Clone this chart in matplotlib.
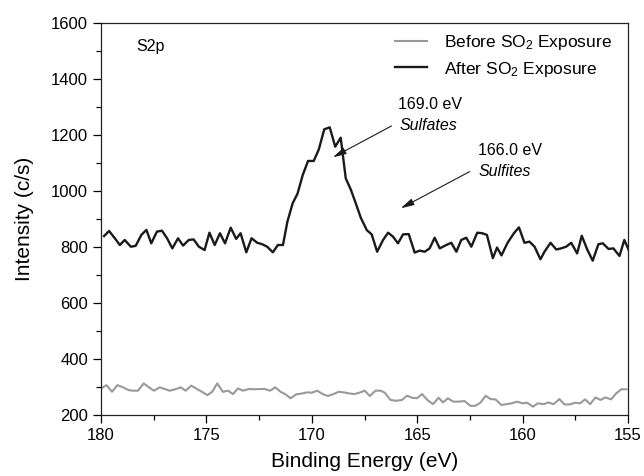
import matplotlib
matplotlib.use("Agg")
import matplotlib.pyplot as plt
from matplotlib.ticker import MultipleLocator

# S2p spectrum after SO2 exposure
after_energy = [
    179.86, 179.62, 179.35, 179.11, 178.88, 178.59, 178.36, 178.09, 177.85, 177.62,
    177.35, 177.11, 176.87, 176.62, 176.35, 176.11, 175.84, 175.61, 175.36, 175.09,
    174.86, 174.61, 174.36, 174.12, 173.85, 173.59, 173.38, 173.11, 172.86, 172.59,
    172.36, 172.12, 171.85, 171.61, 171.37, 171.16, 170.91, 170.68, 170.43, 170.18,
    169.91, 169.67, 169.41, 169.15, 168.89, 168.63, 168.39, 168.15, 167.91, 167.68,
    167.39, 167.16, 166.90, 166.62, 166.38, 166.15, 165.91, 165.67, 165.40, 165.12,
    164.88, 164.64, 164.41, 164.17, 163.93, 163.62, 163.38, 163.14, 162.91, 162.67,
    162.43, 162.15, 161.91, 161.69, 161.41, 161.21, 161.00, 160.71, 160.41, 160.17,
    159.91, 159.67, 159.43, 159.15, 158.96, 158.67, 158.40, 158.17, 157.93, 157.69,
    157.41, 157.19, 156.93, 156.67, 156.40, 156.19, 155.92, 155.69, 155.40, 155.17,
    154.96,
]
after_counts = [
    839, 857, 831, 807, 825, 801, 804, 843, 861, 813,
    855, 858, 831, 795, 831, 805, 825, 827, 801, 789,
    851, 807, 849, 813, 869, 829, 849, 781, 831, 815,
    810, 801, 781, 807, 807, 890, 956, 990, 1057, 1107,
    1107, 1148, 1220, 1227, 1158, 1190, 1045, 1005, 955, 905,
    860, 845, 783, 825, 851, 837, 813, 845, 846, 780,
    787, 783, 795, 833, 795, 807, 815, 783, 825, 833,
    801, 851, 849, 843, 760, 798, 770, 815, 849, 870,
    815, 819, 801, 756, 783, 815, 791, 795, 801, 815,
    777, 840, 791, 751, 810, 813, 793, 795, 768, 825,
    789,
]

# S2p spectrum before SO2 exposure
before_energy = [
    180.14, 179.99, 179.75, 179.48, 179.23, 178.96, 178.69, 178.48, 178.25, 177.98,
    177.73, 177.49, 177.22, 176.98, 176.74, 176.48, 176.22, 175.99, 175.72, 175.45,
    175.21, 174.96, 174.73, 174.49, 174.22, 173.98, 173.74, 173.51, 173.27, 173.00,
    172.75, 172.48, 172.24, 171.98, 171.74, 171.48, 171.25, 171.01, 170.74, 170.47,
    170.22, 169.99, 169.75, 169.48, 169.24, 168.97, 168.73, 168.48, 168.21, 167.98,
    167.74, 167.49, 167.25, 166.98, 166.74, 166.54, 166.27, 165.99, 165.72, 165.48,
    165.25, 165.01, 164.77, 164.52, 164.25, 163.98, 163.78, 163.54, 163.30, 163.03,
    162.75, 162.48, 162.24, 162.00, 161.75, 161.52, 161.28, 161.01, 160.77, 160.51,
    160.27, 160.01, 159.78, 159.51, 159.27, 159.00, 158.77, 158.53, 158.25, 158.01,
    157.77, 157.50, 157.27, 157.03, 156.79, 156.54, 156.30, 156.07, 155.80, 155.56,
    155.32, 155.07,
]
before_counts = [
    289, 295, 307, 283, 307, 299, 289, 287, 287, 313,
    299, 287, 299, 293, 287, 292, 299, 287, 305, 293,
    283, 271, 283, 313, 283, 287, 275, 295, 287, 293,
    292, 293, 293, 287, 299, 283, 274, 260, 274, 277,
    281, 280, 287, 275, 268, 275, 283, 281, 277, 275,
    280, 287, 268, 287, 287, 280, 254, 251, 254, 269,
    262, 260, 275, 254, 239, 262, 245, 260, 248, 248,
    250, 233, 233, 244, 269, 257, 256, 236, 239, 242,
    248, 242, 244, 230, 242, 239, 245, 239, 257, 238,
    238, 244, 242, 256, 239, 263, 254, 263, 256, 277,
    292, 292,
]

plt.rcParams.update(
    {
        "font.family": ["Liberation Sans", "DejaVu Sans"],
        "mathtext.default": "regular",
        "font.size": 11.5,
        "axes.linewidth": 0.9,
        "axes.edgecolor": "#222222",
    }
)

fig = plt.figure(figsize=(6.44, 4.76), dpi=100)
ax = fig.add_axes([0.157, 0.128, 0.818, 0.824])

ax.plot(before_energy, before_counts, color="#999999", lw=1.5, label="Before SO$_2$ Exposure")
ax.plot(after_energy, after_counts, color="#1a1a1a", lw=1.7, label="After SO$_2$ Exposure")

ax.set_xlim(180, 155)
ax.set_ylim(200, 1600)
ax.xaxis.set_major_locator(MultipleLocator(5))
ax.xaxis.set_minor_locator(MultipleLocator(2.5))
ax.yaxis.set_major_locator(MultipleLocator(200))
ax.yaxis.set_minor_locator(MultipleLocator(100))
ax.tick_params(which="major", direction="out", length=6, width=0.9, labelsize=12)
ax.tick_params(which="minor", direction="out", length=3.5, width=0.9)

ax.set_xlabel("Binding Energy (eV)", fontsize=15, labelpad=6)
ax.set_ylabel("Intensity (c/s)", fontsize=15, labelpad=12)

ax.text(178.35, 1514, "S2p", fontsize=11.5, ha="left", va="center")

ax.legend(loc="upper right", bbox_to_anchor=(0.995, 1.008), frameon=False, fontsize=12.5,
          handlelength=1.85, handletextpad=1.0, labelspacing=0.45, borderaxespad=0.35)

arrow = dict(arrowstyle="-|>,head_length=0.7,head_width=0.18", color="#1a1a1a",
             lw=0.8, shrinkA=0, shrinkB=0)
ax.annotate("", xy=(169.0, 1120), xytext=(166.22, 1232), arrowprops=arrow)
ax.annotate("", xy=(165.78, 938), xytext=(162.51, 1069), arrowprops=arrow)
ax.text(165.91, 1307, "169.0 eV", ha="left", va="center")
ax.text(165.86, 1232, "Sulfates", ha="left", va="center", style="italic")
ax.text(162.12, 1146, "166.0 eV", ha="left", va="center")
ax.text(162.09, 1071, "Sulfites", ha="left", va="center", style="italic")

plt.savefig("out.png", dpi=100)
